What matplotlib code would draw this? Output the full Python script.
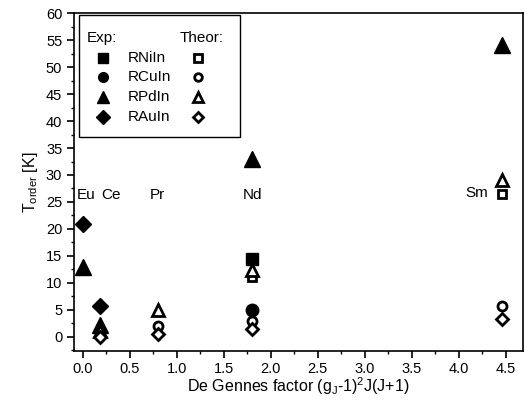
import numpy as np
import matplotlib.pyplot as plt
from matplotlib.patches import Rectangle
from matplotlib.ticker import MultipleLocator

plt.rcParams['font.family'] = ['Liberation Sans', 'DejaVu Sans']
plt.rcParams['mathtext.fontset'] = 'custom'
plt.rcParams['mathtext.rm'] = 'Liberation Sans'
plt.rcParams['mathtext.it'] = 'Liberation Sans'

#%% data: de Gennes factor vs ordering temperature

# element labels
elements = ['Eu', 'Ce', 'Pr', 'Nd', 'Sm']
el_x = [-0.065, 0.20, 0.715, 1.705, 4.07]
el_y = [26.3, 26.3, 26.3, 26.3, 26.6]

# experimental
exp_ni_x, exp_ni_y = [1.80], [14.5]
exp_cu_x, exp_cu_y = [1.80], [5.0]
exp_pd_x, exp_pd_y = [0.0, 0.18, 1.80, 4.46], [13.0, 2.2, 33.0, 54.2]
exp_au_x, exp_au_y = [0.0, 0.18], [21.0, 5.7]

# theory
th_ni_x, th_ni_y = [1.80, 4.46], [11.0, 26.5]
th_cu_x, th_cu_y = [0.80, 1.80, 4.46], [2.0, 3.0, 5.6]
th_pd_x, th_pd_y = [0.18, 0.80, 1.80, 4.46], [1.1, 5.0, 12.3, 29.1]
th_au_x, th_au_y = [0.18, 0.80, 1.80, 4.46], [0.0, 0.5, 1.4, 3.3]

names = ['RNiIn', 'RCuIn', 'RPdIn', 'RAuIn']
marks = ['s', 'o', '^', 'D']

#%% figure

f = plt.figure(figsize=(5.25, 4.12), dpi=100)
ax = f.add_axes([0.141, 0.1488, 0.8546, 0.8189])

ax.plot(exp_ni_x, exp_ni_y, 's', color='k', ms=8)
ax.plot(exp_cu_x, exp_cu_y, 'o', color='k', ms=9)
ax.plot(exp_au_x, exp_au_y, 'D', color='k', ms=8.5)
ax.plot(exp_pd_x, exp_pd_y, '^', color='k', ms=11.5)

ax.plot(th_ni_x, th_ni_y, 's', mfc='w', mec='k', mew=2, ms=6)
ax.plot(th_cu_x, th_cu_y, 'o', mfc='w', mec='k', mew=2, ms=6.5)
ax.plot(th_pd_x, th_pd_y, '^', mfc='w', mec='k', mew=2, ms=8)
ax.plot(th_au_x, th_au_y, 'D', mfc='w', mec='k', mew=2, ms=6.5)

for name, x, y in zip(elements, el_x, el_y):
    ax.text(x, y, name, fontsize=11, ha='left', va='center')

ax.set_xlim(-0.093, 4.68)
ax.set_ylim(-2.6, 60)
ax.xaxis.set_major_locator(MultipleLocator(0.5))
ax.xaxis.set_minor_locator(MultipleLocator(0.25))
ax.yaxis.set_major_locator(MultipleLocator(5))
ax.yaxis.set_minor_locator(MultipleLocator(2.5))
ax.tick_params(which='major', direction='out', length=5, width=1.2, labelsize=10.5)
ax.tick_params(which='minor', direction='out', length=2.5, width=1.0)
ax.xaxis.set_major_formatter(plt.FormatStrFormatter('%.1f'))
for s in ax.spines.values():
    s.set_linewidth(1.2)

ax.set_xlabel(r'De Gennes factor (g$_{\mathrm{J}}$-1)$^{2}$J(J+1)', fontsize=11.5, labelpad=-1)
ax.set_ylabel(r'T$_{\mathrm{order}}$ [K]', fontsize=11.5, labelpad=4)

#%% hand-made legend box

ax.add_patch(Rectangle((0.0118, 0.633), 0.358, 0.362, transform=ax.transAxes,
                       fill=False, ec='k', lw=1.0))
ax.text(0.028, 0.927, 'Exp:', transform=ax.transAxes, fontsize=11, va='center')
ax.text(0.236, 0.927, 'Theor:', transform=ax.transAxes, fontsize=11, va='center')
rows = [0.8675, 0.811, 0.752, 0.693]
fsize = [6.5, 7, 9, 7]
osize = [5.5, 5.5, 6.5, 5.5]
for name, m, ry, fs, os_ in zip(names, marks, rows, fsize, osize):
    ax.plot([0.0646], [ry], m, color='k', ms=fs, transform=ax.transAxes, clip_on=False)
    ax.text(0.12, ry, name, transform=ax.transAxes, fontsize=11, va='center')
    ax.plot([0.2764], [ry], m, mfc='w', mec='k', mew=2, ms=os_,
            transform=ax.transAxes, clip_on=False)

f.savefig('out.png', dpi=100)
